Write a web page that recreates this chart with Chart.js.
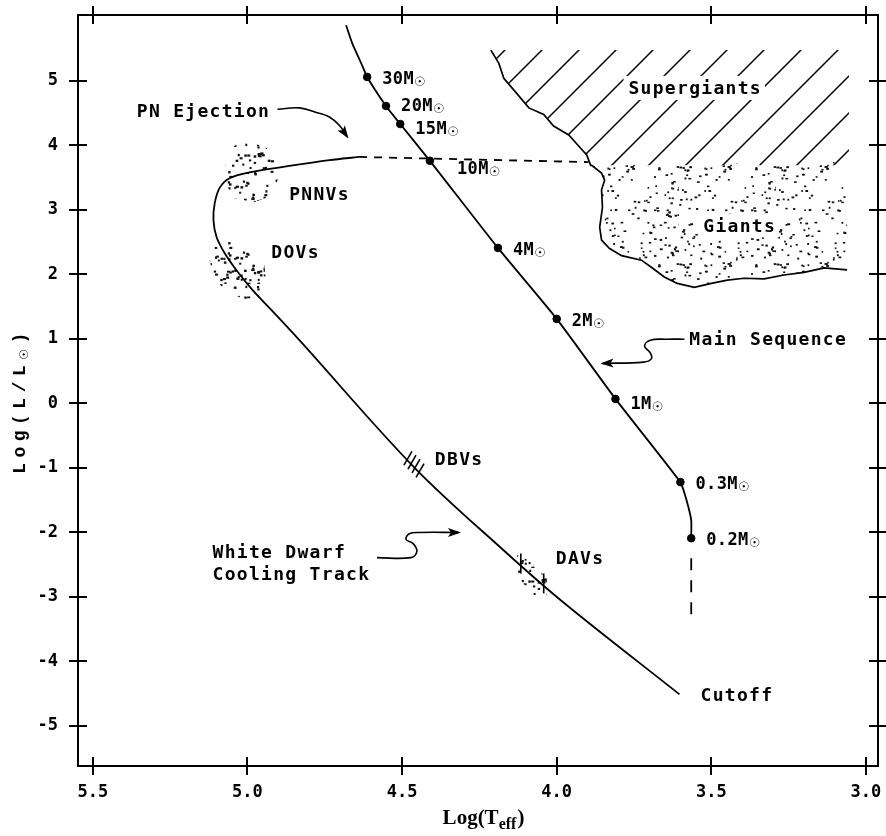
<!DOCTYPE html>
<html><head><meta charset="utf-8">
<script src="https://cdn.jsdelivr.net/npm/chart.js@4.4.1/dist/chart.umd.min.js"></script>
<style>html,body{margin:0;padding:0;background:#fff;}#wrap{width:886px;height:836px;}</style>
</head><body><div id="wrap"><canvas id="c" width="886" height="836"></canvas></div>
<script>
// ---------- data ----------
const xTicks = [5.5, 5.0, 4.5, 4.0, 3.5, 3.0];
const xTickLabels = ['5.5', '5.0', '4.5', '4.0', '3.5', '3.0'];
const yTicks = [5, 4, 3, 2, 1, 0, -1, -2, -3, -4, -5];
const yTickLabels = ['5', '4', '3', '2', '1', '0', '-1', '-2', '-3', '-4', '-5'];

// main sequence
const msX = [4.681, 4.661, 4.632, 4.613, 4.552, 4.506, 4.41, 4.19, 4.0, 3.81, 3.60, 3.587, 3.574, 3.565, 3.565];
const msY = [5.86, 5.58, 5.27, 5.06, 4.61, 4.33, 3.76, 2.41, 1.31, 0.07, -1.22, -1.39, -1.61, -1.81, -2.09];
const msDashX = [3.565, 3.565];
const msDashY = [-2.40, -3.29];
const massLabels = ['30M☉', '20M☉', '15M☉', '10M☉', '4M☉', '2M☉', '1M☉', '0.3M☉', '0.2M☉'];
const massX = [4.613, 4.552, 4.506, 4.41, 4.19, 4.0, 3.81, 3.60, 3.565];
const massY = [5.06, 4.61, 4.33, 3.76, 2.41, 1.31, 0.07, -1.22, -2.09];

// white dwarf cooling track
const wdX = [4.639, 4.735, 4.865, 4.994, 5.058, 5.090, 5.106, 5.110, 5.100, 5.074, 5.035, 4.984, 4.923, 4.832, 4.461, 4.171, 3.977, 3.603];
const wdY = [3.82, 3.77, 3.68, 3.58, 3.49, 3.34, 3.10, 2.84, 2.58, 2.33, 2.06, 1.76, 1.45, 0.98, -0.99, -2.28, -3.09, -4.51];
const wdDashX = [4.639, 3.897];
const wdDashY = [3.82, 3.74];

// regions
const sgX = [4.213, 4.187, 4.171, 4.139, 4.090, 4.042, 4.010, 3.961, 3.929, 3.903, 3.890, 3.055, 3.055];
const sgY = [5.476, 5.27, 5.04, 4.86, 4.58, 4.48, 4.30, 4.16, 3.99, 3.85, 3.69, 3.69, 5.476];
const gX = [3.887, 3.855, 3.845, 3.855, 3.852, 3.861, 3.855, 3.829, 3.790, 3.726, 3.694, 3.652, 3.610, 3.555, 3.500, 3.448, 3.394, 3.329, 3.265, 3.200, 3.135, 3.061, 3.061];
const gY = [3.69, 3.57, 3.46, 3.31, 3.04, 2.73, 2.53, 2.40, 2.29, 2.22, 2.11, 1.96, 1.86, 1.80, 1.86, 1.91, 1.94, 1.93, 1.99, 2.03, 2.10, 2.07, 3.74];
const pnnvX = [5.020, 4.945, 4.900, 4.900, 4.925, 4.977, 5.045, 5.070, 5.072, 5.055];
const pnnvY = [4.06, 3.99, 3.78, 3.49, 3.21, 3.12, 3.18, 3.41, 3.69, 3.95];
const dovX = [5.074, 5.026, 4.970, 4.945, 4.940, 4.965, 5.010, 5.068, 5.110, 5.122, 5.110];
const dovY = [2.56, 2.50, 2.38, 2.15, 1.88, 1.66, 1.61, 1.74, 1.94, 2.22, 2.45];
const davX = [4.129, 4.090, 4.032, 4.032, 4.074, 4.123];
const davY = [-2.35, -2.43, -2.71, -3.05, -2.97, -2.71];
const dbvMarkX = [4.481, 4.468, 4.455, 4.442];
const dbvMarkY = [-0.85, -0.91, -0.97, -1.04];
const davMarkX = [4.116, 4.042];
const davMarkY = [-2.48, -2.79];

// annotation arrows
const pnArrowX = [4.903, 4.832, 4.777, 4.735, 4.703, 4.677];
const pnArrowY = [4.56, 4.58, 4.51, 4.44, 4.31, 4.13];
const msArrowX = [3.587, 3.645, 3.697, 3.716, 3.697, 3.694, 3.719, 3.852];
const msArrowY = [0.995, 0.995, 0.98, 0.89, 0.78, 0.69, 0.64, 0.62];
const wdArrowX = [4.581, 4.471, 4.452, 4.465, 4.487, 4.477, 4.445, 4.316];
const wdArrowY = [-2.39, -2.39, -2.29, -2.17, -2.11, -2.02, -2.00, -2.00];

// annotation texts (anchor = left edge, vertical centre)
const noteText = ['PN Ejection', 'PNNVs', 'DOVs', 'DBVs', 'DAVs', 'White Dwarf', 'Cooling Track', 'Main Sequence', 'Cutoff', 'Supergiants', 'Giants'];
const noteX = [5.358, 4.865, 4.923, 4.394, 4.003, 5.113, 5.113, 3.571, 3.535, 3.768, 3.526];
const noteY = [4.545, 3.26, 2.36, -0.85, -2.385, -2.29, -2.63, 1.01, -4.51, 4.89, 2.76];

// ---------- helpers ----------
const pts = (xs, ys) => xs.map((x, i) => ({x: x, y: ys[i]}));
const edgeX = sgX.slice(0, 11).concat(gX.slice(0, 22));
const edgeY = sgY.slice(0, 11).concat(gY.slice(0, 22));

const canvas = document.getElementById('c');
const ctx = canvas.getContext('2d');

function makeHatch() {
  const c = document.createElement('canvas');
  c.width = 37; c.height = 37;
  const g = c.getContext('2d');
  g.strokeStyle = '#000'; g.lineWidth = 1.5;
  g.beginPath();
  g.moveTo(-5, 42); g.lineTo(42, -5);
  g.moveTo(-5, 5); g.lineTo(5, -5);
  g.moveTo(32, 42); g.lineTo(42, 32);
  g.stroke();
  return ctx.createPattern(c, 'repeat');
}
function makeStipple(size, n, seed, dot) {
  // texture only (deterministic), not data
  const c = document.createElement('canvas');
  c.width = size; c.height = size;
  const g = c.getContext('2d');
  g.fillStyle = '#111';
  let s = seed;
  const r = () => (s = (s * 16807) % 2147483647) / 2147483647;
  for (let i = 0; i < n; i++) {
    const x = r() * size, y = r() * size;
    g.fillRect(x, y, dot + r() * 1.4, dot + r() * 0.5);
  }
  return ctx.createPattern(c, 'repeat');
}
const hatch = makeHatch();
const dense = makeStipple(97, 160, 12345, 1.5);
const sparse = makeStipple(71, 130, 777, 1.9);

const MONO = '"DejaVu Sans Mono", "Liberation Mono", monospace';

const hrPlugin = {
  id: 'hr',
  afterDatasetsDraw(chart) {
    const g = chart.ctx;
    const xs = chart.scales.x, ys = chart.scales.y;
    g.save();
    // arrowheads
    [[pnArrowX, pnArrowY], [msArrowX, msArrowY], [wdArrowX, wdArrowY]].forEach(([ax, ay]) => {
      const n = ax.length;
      const x1 = xs.getPixelForValue(ax[n - 2]), y1 = ys.getPixelForValue(ay[n - 2]);
      const x2 = xs.getPixelForValue(ax[n - 1]), y2 = ys.getPixelForValue(ay[n - 1]);
      const a = Math.atan2(y2 - y1, x2 - x1);
      const c = Math.cos(a), s = Math.sin(a);
      g.fillStyle = '#000';
      g.beginPath();
      g.moveTo(x2 + 2 * c, y2 + 2 * s);
      g.lineTo(x2 - 11 * c + 4.5 * s, y2 - 11 * s - 4.5 * c);
      g.lineTo(x2 - 8 * c, y2 - 8 * s);
      g.lineTo(x2 - 11 * c - 4.5 * s, y2 - 11 * s + 4.5 * c);
      g.closePath(); g.fill();
    });
    // notes
    g.fillStyle = '#000';
    g.textBaseline = 'alphabetic';
    g.textAlign = 'left';
    g.font = 'bold 18px ' + MONO;
    try { g.letterSpacing = '1.3px'; } catch (e) {}
    noteText.forEach((t, i) => {
      const X = xs.getPixelForValue(noteX[i]);
      const Y = ys.getPixelForValue(noteY[i]);
      if (t === 'Supergiants' || t === 'Giants') {
        const w = g.measureText(t).width;
        g.fillStyle = '#fff';
        g.fillRect(X - 5, Y - 12, w + 8, 24);
        g.fillStyle = '#000';
      }
      g.fillText(t, X, Y + 6.5);
    });
    // mass labels
    try { g.letterSpacing = '0.4px'; } catch (e) {}
    const nudge = {'10M☉': [12, 6], '15M☉': [0, 3], '1M☉': [0, 3], '20M☉': [0, -2]};
    massLabels.forEach((t, i) => {
      const d = nudge[t] || [0, 0];
      const X = xs.getPixelForValue(massX[i]) + 15 + d[0];
      const Y = ys.getPixelForValue(massY[i]) + 7 + d[1];
      const base = t.slice(0, -1);
      g.font = 'bold 17px ' + MONO;
      g.fillText(base, X, Y);
      const w = g.measureText(base).width;
      g.font = 'bold 13px "DejaVu Sans", sans-serif';
      g.fillText('☉', X + w, Y + 2);
    });
    g.restore();
  },
  afterDraw(chart) {
    const g = chart.ctx;
    const a = chart.chartArea;
    const xs = chart.scales.x, ys = chart.scales.y;
    g.save();
    g.strokeStyle = '#000'; g.lineWidth = 2;
    g.beginPath();
    g.moveTo(a.left, a.top); g.lineTo(a.right, a.top); g.lineTo(a.right, a.bottom);
    xs.ticks.forEach(t => {
      const p = Math.round(xs.getPixelForValue(t.value));
      g.moveTo(p, a.top - 9); g.lineTo(p, a.top + 9);
      g.moveTo(p, a.bottom - 9); g.lineTo(p, a.bottom + 9);
    });
    ys.ticks.forEach(t => {
      const p = Math.round(ys.getPixelForValue(t.value));
      g.moveTo(a.left - 9, p); g.lineTo(a.left + 9, p);
      g.moveTo(a.right - 9, p); g.lineTo(a.right + 9, p);
    });
    g.stroke();
    // axis titles
    g.fillStyle = '#000';
    g.textBaseline = 'alphabetic';
    // x title: Log(T_eff)
    const cx = (a.left + a.right) / 2 + 5;
    g.font = 'bold 21px "Liberation Serif", serif';
    const w1 = g.measureText('Log(T').width;
    g.font = 'bold 16px "Liberation Serif", serif';
    const w2 = g.measureText('eff').width;
    g.font = 'bold 21px "Liberation Serif", serif';
    const w3 = g.measureText(')').width;
    let x0 = cx - (w1 + w2 + w3) / 2;
    const by = 824;
    g.fillText('Log(T', x0, by);
    g.font = 'bold 16px "Liberation Serif", serif';
    g.fillText('eff', x0 + w1, by + 5);
    g.font = 'bold 21px "Liberation Serif", serif';
    g.fillText(')', x0 + w1 + w2 + 1, by);
    // y title: Log(L/L☉)
    g.translate(25, (a.top + a.bottom) / 2 + 10);
    g.rotate(-Math.PI / 2);
    try { g.letterSpacing = '5.5px'; } catch (e) {}
    g.font = 'bold 18px "Liberation Mono", monospace';
    const u1 = g.measureText('Log(L/L').width;
    g.font = 'bold 12px "DejaVu Sans", sans-serif';
    const u2 = g.measureText('☉').width;
    g.font = 'bold 18px "Liberation Mono", monospace';
    const u3 = g.measureText(')').width;
    const y0 = -(u1 + u2 + u3) / 2;
    g.fillText('Log(L/L', y0, 0);
    g.font = 'bold 12px "DejaVu Sans", sans-serif';
    g.fillText('☉', y0 + u1, 3);
    g.font = 'bold 18px "Liberation Mono", monospace';
    g.fillText(')', y0 + u1 + u2, 0);
    g.restore();
  }
};

const lineDS = (data, extra) => Object.assign({
  data: data, showLine: true, borderColor: '#000', borderWidth: 1.8,
  pointRadius: 0, fill: false, tension: 0
}, extra);
const regionDS = (data, pattern, order) => ({
  data: data, showLine: true, borderColor: 'rgba(0,0,0,0)', borderWidth: 1,
  pointRadius: 0, fill: 'shape', backgroundColor: pattern, order: order
});
const noPad = (s) => { s.paddingLeft = 0; s.paddingRight = 0; s.paddingTop = 0; s.paddingBottom = 0; };

new Chart(ctx, {
  type: 'scatter',
  data: {
    datasets: [
      regionDS(pts(sgX, sgY), hatch, 20),
      regionDS(pts(gX, gY), dense, 19),
      regionDS(pts(pnnvX, pnnvY), sparse, 18),
      regionDS(pts(dovX, dovY), sparse, 18),
      regionDS(pts(davX, davY), sparse, 18),
      lineDS(pts(edgeX, edgeY), {borderWidth: 1.7, order: 10}),
      lineDS(pts(wdDashX, wdDashY), {borderDash: [8, 7], order: 5}),
      lineDS(pts(wdX, wdY), {tension: 0.35, order: 5}),
      lineDS(pts(msX, msY), {tension: 0.2, order: 5}),
      lineDS(pts(msDashX, msDashY), {borderDash: [12, 10], order: 5}),
      lineDS(pts(pnArrowX, pnArrowY), {tension: 0.4, borderWidth: 1.6, order: 6}),
      lineDS(pts(msArrowX, msArrowY), {tension: 0.4, borderWidth: 1.6, order: 6}),
      lineDS(pts(wdArrowX, wdArrowY), {tension: 0.4, borderWidth: 1.6, order: 6}),
      {data: pts(dbvMarkX, dbvMarkY), showLine: false, pointStyle: 'line', pointRadius: 8,
       pointRotation: -60, borderColor: '#000', pointBorderWidth: 1.6, order: 2},
      {data: pts(davMarkX, davMarkY), showLine: false, pointStyle: 'line', pointRadius: 10,
       pointRotation: 90, borderColor: '#000', pointBorderWidth: 1.6, order: 2},
      {data: pts(massX, massY), showLine: false, pointRadius: 3.8, pointStyle: 'circle',
       backgroundColor: '#000', borderColor: '#000', order: 1}
    ]
  },
  options: {
    responsive: false, animation: false, events: [],
    layout: {autoPadding: false, padding: {top: 15, right: 8, left: 0, bottom: 0}},
    plugins: {legend: {display: false}, tooltip: {enabled: false}},
    scales: {
      x: {
        type: 'linear', position: 'bottom', reverse: true, min: 2.961, max: 5.548,
        grid: {display: false, drawTicks: false},
        border: {display: true, color: '#000', width: 2},
        ticks: {
          color: '#000', padding: 16, maxRotation: 0, autoSkip: false,
          font: {family: MONO, size: 17, weight: 'bold'},
          callback: (v) => { const i = xTicks.indexOf(v); return i >= 0 ? xTickLabels[i] : ''; }
        },
        afterBuildTicks: (s) => { s.ticks = xTicks.map(v => ({value: v})); },
        afterFit: (s) => { s.height = 70; noPad(s); }
      },
      y: {
        type: 'linear', position: 'left', min: -5.62, max: 6.02,
        grid: {display: false, drawTicks: false},
        border: {display: true, color: '#000', width: 2},
        ticks: {
          color: '#000', padding: 20, autoSkip: false,
          font: {family: MONO, size: 17, weight: 'bold'},
          callback: (v) => { const i = yTicks.indexOf(v); return i >= 0 ? yTickLabels[i] : ''; }
        },
        afterBuildTicks: (s) => { s.ticks = yTicks.map(v => ({value: v})); },
        afterFit: (s) => { s.width = 78; noPad(s); }
      }
    }
  },
  plugins: [hrPlugin]
});
</script>
</body></html>
